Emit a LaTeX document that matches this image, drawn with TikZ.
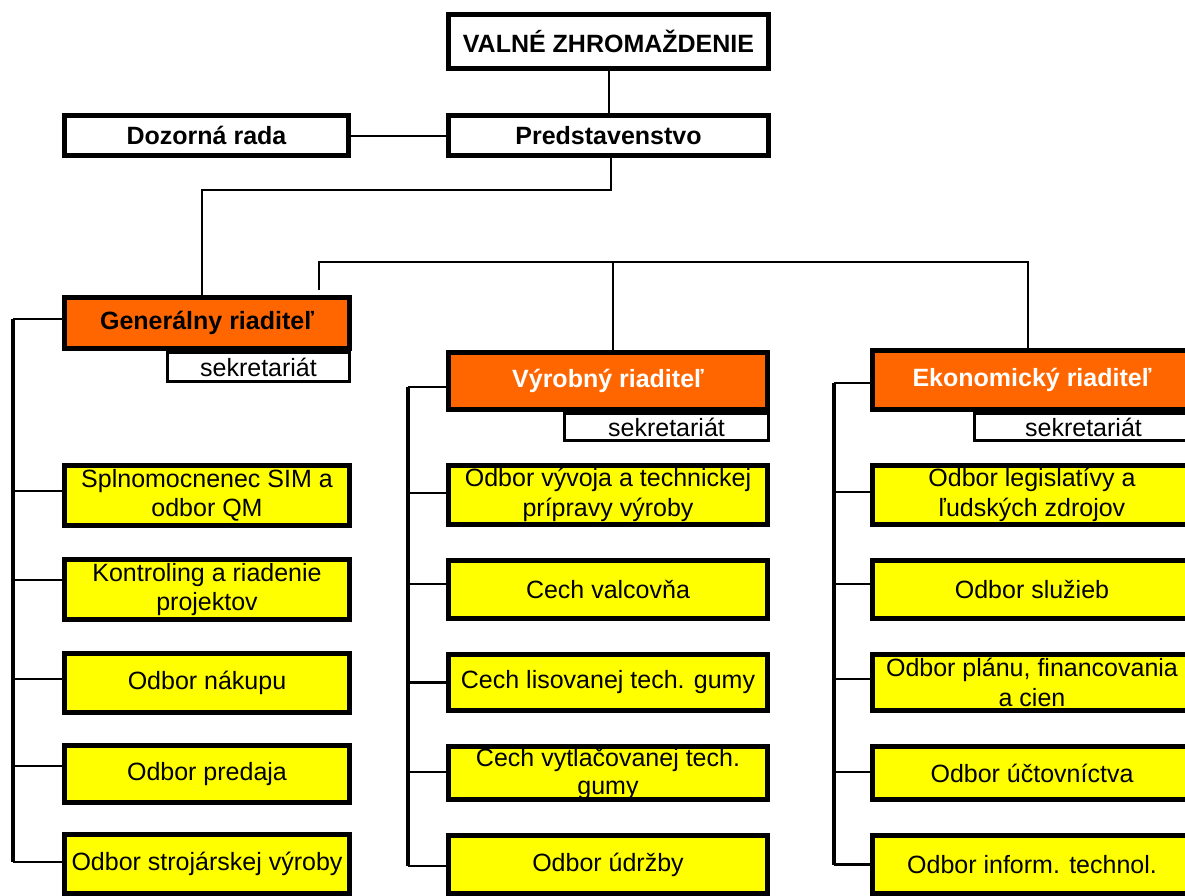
\documentclass[tikz,border=0pt]{standalone}
\usepackage{fontspec}
\setmainfont{Liberation Sans}
\definecolor{orgOrange}{HTML}{FF6600}
\definecolor{orgYellow}{HTML}{FFFF00}
\begin{document}
\begin{tikzpicture}[x=1pt,y=-1pt,
  every node/.style={inner sep=0pt, align=center, font=\fontsize{25}{29.5}\selectfont},
  topbox/.style={draw, line width=5pt, fill=white, font=\fontsize{25}{29.5}\selectfont\bfseries},
  headbox/.style={draw, line width=5pt, fill=orgOrange, font=\fontsize{25}{29.5}\selectfont\bfseries},
  sekbox/.style={draw, line width=3pt, fill=white},
  unitL/.style={draw, line width=5pt, fill=orgYellow, minimum width=285pt},
  unitW/.style={draw, line width=5pt, fill=orgYellow, minimum width=319pt},
  link/.style={line width=2pt},
  bus/.style={line width=3.5pt},
  stubline/.style={line width=2.5pt}
]
\useasboundingbox (0,0) rectangle (1185,895);
\clip (0,0) rectangle (1185,895);

% top level
\node[topbox, minimum width=320pt, minimum height=54pt] (valne) at (608.5,41.5) {VALNÉ ZHROMAŽDENIE};
\node[topbox, minimum width=320pt, minimum height=40pt] (pred) at (608.5,135.5) {Predstavenstvo};
\node[topbox, minimum width=284pt, minimum height=40pt] (dozor) at (206.5,135.5) {Dozorná rada};

% secretariats (drawn first, header boxes overlap them)
\node[sekbox, minimum width=182pt, minimum height=29pt] (gsek) at (258.5,367) {sekretariát};
\node[sekbox, minimum width=204pt, minimum height=27pt] (vsek) at (666.5,427) {sekretariát};
\node[sekbox, minimum width=218pt, minimum height=27pt] (esek) at (1083.5,427) {sekretariát};

% directors
\node[headbox, minimum width=285pt, minimum height=51pt] (gr) at (207,323) {Generálny riaditeľ};
\node[headbox, text=white, minimum width=319pt, minimum height=57pt] (vr) at (608,381) {Výrobný riaditeľ};
\node[headbox, text=white, minimum width=319pt, minimum height=59pt] (er) at (1032,380) {Ekonomický riaditeľ};

% left column
\node[unitL, minimum height=60pt] (g1) at (207,495.5) {Splnomocnenec SIM a\\odbor QM};
\node[unitL, minimum height=60pt] (g2) at (207,589.5) {Kontroling a riadenie\\projektov};
\node[unitL, minimum height=59pt] (g3) at (207,683) {Odbor nákupu};
\node[unitL, minimum height=57pt] (g4) at (207,774) {Odbor predaja};
\node[unitL, minimum height=59pt] (g5) at (207,864) {Odbor strojárskej výroby};

% middle column
\node[unitW, minimum height=59pt] (v1) at (608,495) {Odbor vývoja a technickej\\prípravy výroby};
\node[unitW, minimum height=58pt] (v2) at (608,589.5) {Cech valcovňa};
\node[unitW, minimum height=56pt] (v3) at (608,682.5) {Cech lisovanej tech. gumy};
\node[unitW, minimum height=53pt] (v4) at (608,773) {};
\node (v4text) at ([yshift=-1pt]v4.center) {Cech vytlačovanej tech.\\[-1.5pt]gumy};
\node[unitW, minimum height=58pt] (v5) at (608,864.5) {Odbor údržby};

% right column
\node[unitW, minimum height=59pt] (e1) at (1032,495) {Odbor legislatívy a\\ľudských zdrojov};
\node[unitW, minimum height=58pt] (e2) at (1032,589.5) {Odbor služieb};
\node[unitW, minimum height=56pt] (e3) at (1032,682.5) {Odbor plánu, financovania\\a cien};
\node[unitW, minimum height=53pt] (e4) at (1032,773) {Odbor účtovníctva};
\node[unitW, minimum height=58pt] (e5) at (1032,864.5) {Odbor inform. technol.};

% top connectors
\coordinate (j1) at (611,190);
\coordinate (h0) at (319,262);
\coordinate (hstub) at (319,290);
\coordinate (vtop) at ([xshift=5pt]vr.north);
\draw[link] (valne) -- (pred);
\draw[link] (dozor.east) -- (pred.west);
\draw[link] ([xshift=2.5pt]pred.south) -- (j1) -| ([xshift=-5pt]gr.north);
\draw[link] (hstub) -- (h0) -| ([xshift=-4pt]er.north);
\draw[link] (h0 -| vtop) -- (vtop);

% bus lines
\coordinate (lb) at (13,0);
\coordinate (mb) at (408,0);
\coordinate (rb) at (834,0);

\draw[bus] ([yshift=4pt]gr.west -| lb) -- ([yshift=2pt]g5.west -| lb);
\draw[stubline] ([yshift=4pt]gr.west) -- ([yshift=4pt]gr.west -| lb);
\draw[stubline] ([yshift=4.5pt]g1.west) -- ([yshift=4.5pt]g1.west -| lb);
\draw[stubline] ([yshift=9.5pt]g2.west) -- ([yshift=9.5pt]g2.west -| lb);
\draw[stubline] ([yshift=4pt]g3.west) -- ([yshift=4pt]g3.west -| lb);
\draw[stubline] ([yshift=8pt]g4.west) -- ([yshift=8pt]g4.west -| lb);
\draw[stubline] ([yshift=2pt]g5.west) -- ([yshift=2pt]g5.west -| lb);

\draw[bus] ([yshift=-6pt]vr.west -| mb) -- ([yshift=-1.5pt]v5.west -| mb);
\draw[stubline] ([yshift=-6pt]vr.west) -- ([yshift=-6pt]vr.west -| mb);
\draw[stubline] ([yshift=2pt]v1.west) -- ([yshift=2pt]v1.west -| mb);
\draw[stubline] ([yshift=5.5pt]v2.west) -- ([yshift=5.5pt]v2.west -| mb);
\draw[stubline] (v3.west) -- (v3.west -| mb);
\draw[stubline] ([yshift=1pt]v4.west) -- ([yshift=1pt]v4.west -| mb);
\draw[stubline] ([yshift=-1.5pt]v5.west) -- ([yshift=-1.5pt]v5.west -| mb);

\draw[bus] ([yshift=-3pt]er.west -| rb) -- (e5.west -| rb);
\draw[stubline] ([yshift=-3pt]er.west) -- ([yshift=-3pt]er.west -| rb);
\draw[stubline] ([yshift=3pt]e1.west) -- ([yshift=3pt]e1.west -| rb);
\draw[stubline] ([yshift=5.5pt]e2.west) -- ([yshift=5.5pt]e2.west -| rb);
\draw[stubline] ([yshift=3.5pt]e3.west) -- ([yshift=3.5pt]e3.west -| rb);
\draw[stubline] ([yshift=1pt]e4.west) -- ([yshift=1pt]e4.west -| rb);
\draw[stubline] (e5.west) -- (e5.west -| rb);
\end{tikzpicture}
\end{document}
